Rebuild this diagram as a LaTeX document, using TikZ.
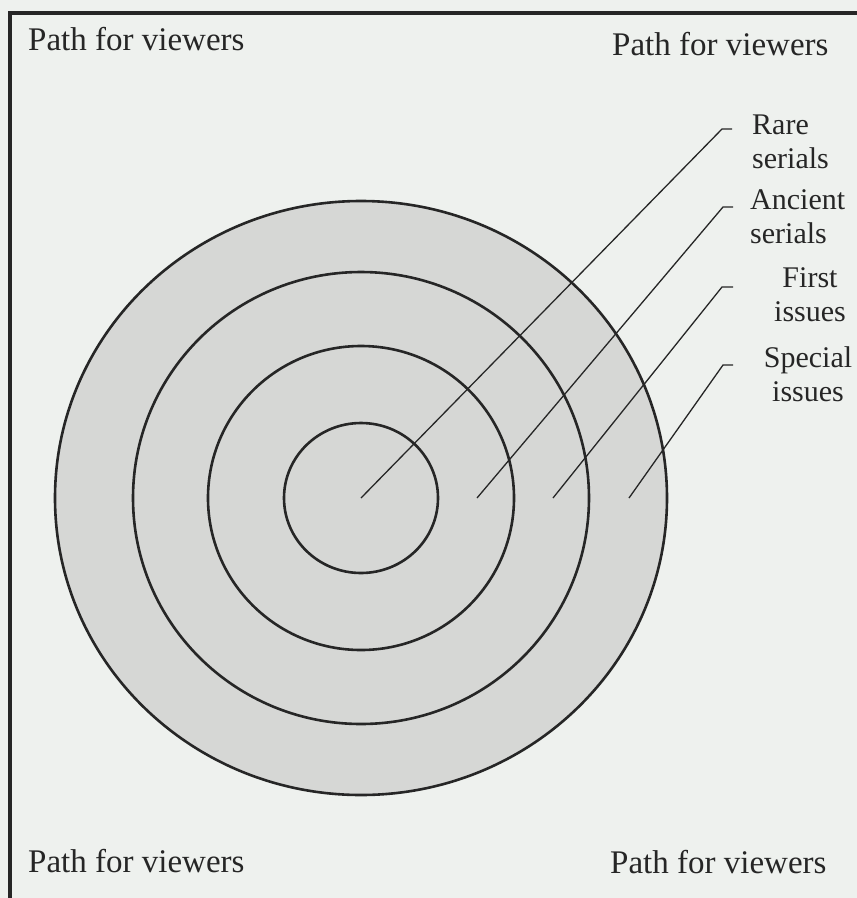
\documentclass[tikz,border=0pt]{standalone}
\usepackage{fontspec}
\setmainfont{Liberation Serif}
\definecolor{pagebg}{RGB}{238,241,238}
\definecolor{ringfill}{RGB}{214,215,213}
\definecolor{inkgray}{RGB}{38,38,38}
\usetikzlibrary{positioning}

\begin{document}
\begin{tikzpicture}[
  x=1pt,y=-1pt,
  pathlbl/.style={font=\fontsize{33}{38}\selectfont,inner sep=0pt,text=inkgray},
  ringlbl/.style={font=\fontsize{30}{34}\selectfont,inner sep=0pt,text=inkgray},
  ring/.style={draw=inkgray,line width=2.6pt,fill=ringfill},
  leader/.style={draw=inkgray,line width=1.3pt},
]
  \useasboundingbox (0,0) rectangle (857,898);
  \fill[pagebg] (0,0) rectangle (857,898);
  % Frame (cut off at right and bottom)
  \draw[inkgray,line width=3.5pt] (10,898) -- (10,13) -- (857,13);
  % Rings of the collection
  \coordinate (ctr) at (361,498);
  \filldraw[ring] (ctr) ellipse [x radius=306,y radius=297];
  \filldraw[ring] (ctr) ellipse [x radius=228,y radius=226];
  \filldraw[ring] (ctr) ellipse [x radius=153,y radius=152];
  \filldraw[ring] (ctr) ellipse [x radius=77,y radius=75];
  % Path labels in the corners
  \node[pathlbl,anchor=base west] (pathNW) at (28,50) {Path for viewers};
  \node[pathlbl,anchor=base west] (pathNE) at (612,55) {Path for viewers};
  \node[pathlbl,anchor=base west] (pathSW) at (28,872) {Path for viewers};
  \node[pathlbl,anchor=base west] (pathSE) at (610,873) {Path for viewers};
  % Ring labels
  \node[ringlbl,anchor=north west,align=left] (rare) at (752,115) {Rare\\serials};
  \node[ringlbl,anchor=north west,align=left] (ancient) at (750,189.5) {Ancient\\serials};
  \node[ringlbl,anchor=north,align=center] (first) at (810,267.5) {First\\issues};
  \node[ringlbl,anchor=north,align=center] (special) at (808,346.5) {Special\\issues};
  % Leader lines
  \coordinate (rareA) at (ctr);
  \coordinate (rareB) at (722,129);
  \coordinate (rareC) at (732,129);
  \coordinate (ancA) at (477,498);
  \coordinate (ancB) at (723,207);
  \coordinate (ancC) at (733,207);
  \coordinate (firstA) at (553,498);
  \coordinate (firstB) at (722,287);
  \coordinate (firstC) at (733,287);
  \coordinate (specA) at (629,498);
  \coordinate (specB) at (723,365);
  \coordinate (specC) at (733,365);
  \draw[leader] (rareA) -- (rareB) -- (rareC);
  \draw[leader] (ancA) -- (ancB) -- (ancC);
  \draw[leader] (firstA) -- (firstB) -- (firstC);
  \draw[leader] (specA) -- (specB) -- (specC);
\end{tikzpicture}
\end{document}
